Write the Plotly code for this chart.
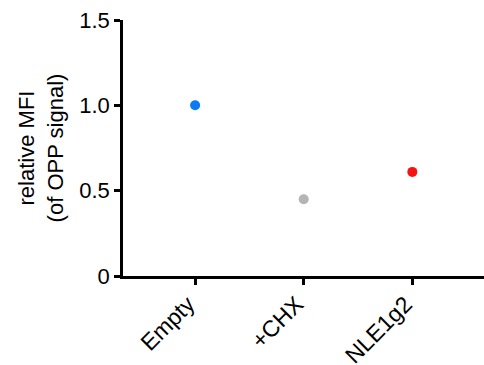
import plotly.graph_objects as go

categories = ["Empty", "+CHX", "NLE1g2"]
values = [1.0, 0.45, 0.61]
colors = ["#0A7AF5", "#B4B4B4", "#F51414"]
yticks = [0, 0.5, 1.0, 1.5]
yticklabels = ["0", "0.5", "1.0", "1.5"]

fig = go.Figure()
fig.add_trace(go.Scatter(
    x=list(range(len(categories))), y=values, mode="markers",
    marker=dict(color=colors, size=10, line=dict(width=0)),
    cliponaxis=False, showlegend=False,
))

font = dict(family="Liberation Sans, Arial, sans-serif", color="black")
fig.update_layout(
    width=484, height=365,
    margin=dict(l=123, r=0, t=20, b=89, autoexpand=False),
    paper_bgcolor="white", plot_bgcolor="white",
    font=dict(**font, size=22),
    xaxis=dict(
        range=[-0.664, 2.66], tickmode="array",
        tickvals=list(range(len(categories))), ticktext=categories,
        tickangle=-45, showline=True, linecolor="black", linewidth=2.5,
        ticks="outside", ticklen=6, tickwidth=2.5, tickcolor="black",
        showgrid=False, zeroline=False, tickfont=dict(size=23), automargin=False,
        ticklabelshift=-7, ticklabelstandoff=-3,
    ),
    yaxis=dict(
        range=[0, 1.5], tickmode="array", tickvals=yticks, ticktext=yticklabels,
        showline=True, linecolor="black", linewidth=2.5,
        ticks="outside", ticklen=6, tickwidth=2.5, tickcolor="black",
        showgrid=False, zeroline=False, tickfont=dict(size=22), automargin=False,
        title=dict(text="relative MFI<br>(of OPP signal)", font=dict(size=22), standoff=10),
    ),
)
fig.write_html("out.html")
